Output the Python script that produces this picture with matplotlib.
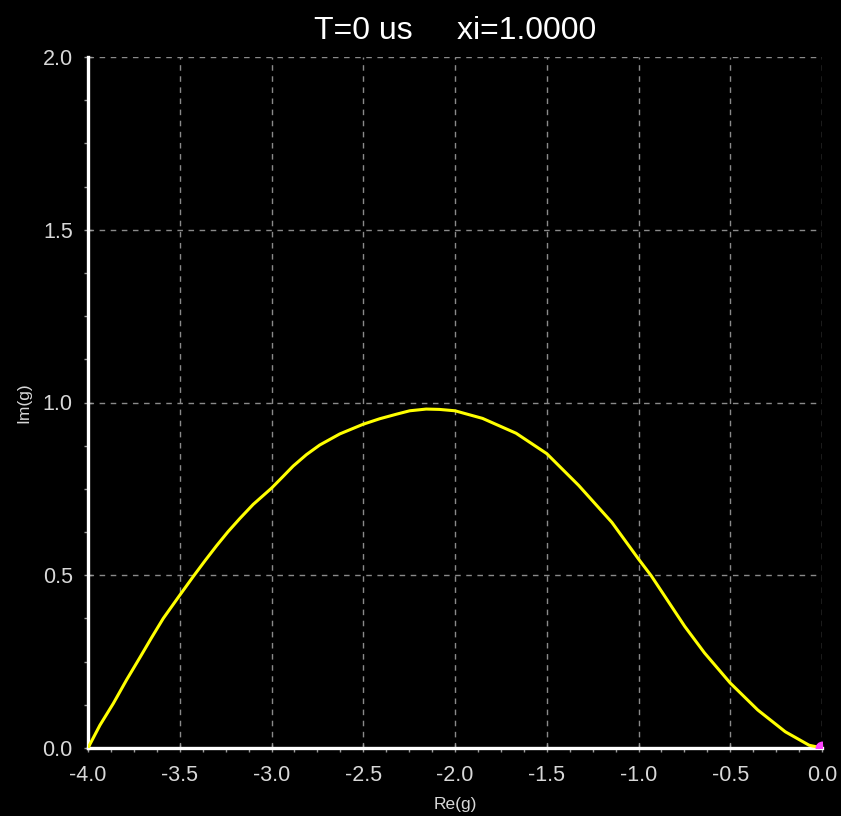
import matplotlib
matplotlib.use("Agg")
import matplotlib.pyplot as plt
from matplotlib.ticker import MultipleLocator, AutoMinorLocator

# locus of g in the complex plane
re_g = [-4.0, -3.935, -3.862, -3.79, -3.717, -3.654, -3.59, -3.503, -3.427, -3.361,
        -3.3, -3.237, -3.173, -3.1, -3.0, -2.937, -2.882, -2.81, -2.737, -2.628,
        -2.501, -2.41, -2.32, -2.247, -2.157, -2.085, -2.0, -1.85, -1.667, -1.5,
        -1.326, -1.145, -1.0, -0.93, -0.748, -0.64, -0.5, -0.35, -0.2, -0.07, 0.0]
im_g = [0.0, 0.066, 0.129, 0.197, 0.262, 0.319, 0.375, 0.44, 0.496, 0.543,
        0.585, 0.626, 0.664, 0.705, 0.752, 0.786, 0.816, 0.849, 0.877, 0.909,
        0.937, 0.953, 0.966, 0.976, 0.981, 0.980, 0.976, 0.954, 0.911, 0.852,
        0.760, 0.653, 0.547, 0.498, 0.352, 0.275, 0.188, 0.110, 0.047, 0.008, 0.0]
# current point
cur_re = [0.0]
cur_im = [0.0]

title = "T=0 us     xi=1.0000"

plt.rcParams['font.family'] = ['Liberation Sans', 'DejaVu Sans']

fig = plt.figure(figsize=(8.41, 8.16), dpi=100, facecolor='black')
ax = fig.add_axes([88 / 841, 1 - 748 / 816, 734 / 841, 691 / 816], facecolor='black')

ax.plot(re_g, im_g, color='#ffff00', lw=2.2, zorder=3, solid_joinstyle='round')
ax.plot(cur_re, cur_im, 'o', color='#ff44ff', ms=9, zorder=4)

ax.set_xlim(-4.0, 0.0)
ax.set_ylim(0.0, 2.0)
ax.xaxis.set_major_locator(MultipleLocator(0.5))
ax.yaxis.set_major_locator(MultipleLocator(0.5))
ax.xaxis.set_minor_locator(AutoMinorLocator(4))
ax.yaxis.set_minor_locator(AutoMinorLocator(4))
ax.xaxis.set_major_formatter(lambda v, p: f"{v:.1f}")
ax.yaxis.set_major_formatter(lambda v, p: f"{v:.1f}")

ax.grid(True, which='major', color='#8a8a8a', ls=(0, (4, 4)), lw=1.0)

for side in ['top', 'right']:
    ax.spines[side].set_visible(False)
for side in ['left', 'bottom']:
    ax.spines[side].set_color('white')
    ax.spines[side].set_linewidth(2.4)

ax.tick_params(which='major', direction='inout', length=6, width=1, color='#9a9a9a',
               labelcolor='#d8d8d8', labelsize=15.5)
ax.tick_params(axis='x', which='major', pad=9)
ax.tick_params(axis='y', which='major', pad=8)
ax.tick_params(which='minor', direction='out', length=3, width=1, color='#9a9a9a')

ax.set_xlabel("Re(g)", color='#d8d8d8', fontsize=12.5, labelpad=8)
ax.set_ylabel("Im(g)", color='#d8d8d8', fontsize=12.5, labelpad=8)
ax.set_title(title, color='white', fontsize=23, pad=13)

fig.savefig("out.png", dpi=100, facecolor='black')
